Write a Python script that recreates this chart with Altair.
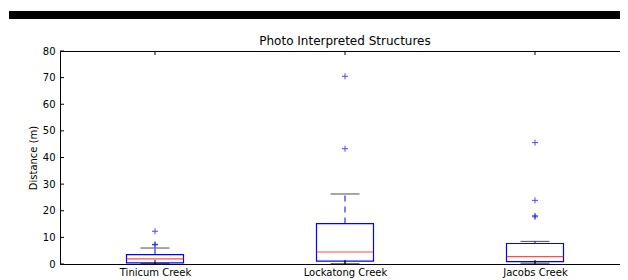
import altair as alt
import pandas as pd

# ---- data ----
title_text = ["Photo Interpreted Structures"]
categories = ["Tinicum Creek", "Lockatong Creek", "Jacobs Creek"]
whisker_low = [0.1, 0.1, 0.3]
q1 = [0.4, 1.1, 0.9]
median = [1.9, 4.5, 2.8]
q3 = [3.5, 15.2, 7.7]
whisker_high = [6.0, 26.3, 8.5]

outlier_cat = ["Tinicum Creek", "Tinicum Creek", "Tinicum Creek",
               "Lockatong Creek", "Lockatong Creek",
               "Jacobs Creek", "Jacobs Creek", "Jacobs Creek", "Jacobs Creek"]
outlier_val = [7.2, 7.4, 12.3, 43.3, 70.5, 17.7, 18.1, 23.9, 45.6]

y_ticks = [0, 10, 20, 30, 40, 50, 60, 70, 80]

W, H = 570, 213
FONT = "DejaVu Sans"
BLUE = "#0000ff"
RED = "#ff0000"

stats = pd.DataFrame({"cat": categories, "lo": whisker_low, "q1": q1,
                      "med": median, "q3": q3, "hi": whisker_high})
outs = pd.DataFrame({"cat": outlier_cat, "v": outlier_val})
ticks_df = pd.DataFrame({"t": y_ticks})
cats_df = pd.DataFrame({"cat": categories})
title_df = pd.DataFrame({"title": title_text})

xscale = alt.Scale(type="point", padding=0.5, domain=categories)
yscale = alt.Scale(domain=[0, 80], nice=False, zero=False)

x_axis = alt.Axis(title=None, ticks=False, domain=False, grid=False,
                  labelFont=FONT, labelFontSize=10, labelColor="black",
                  labelPadding=3, labelAngle=0)
y_axis = alt.Axis(title="Distance (m)", values=y_ticks, ticks=False, domain=False,
                  grid=False, labelFont=FONT, labelFontSize=10, labelColor="black",
                  labelPadding=5, titleFont=FONT, titleFontSize=10,
                  titleFontWeight="normal", titleColor="black", titlePadding=4)

def X():
    return alt.X("cat:N", scale=xscale, axis=x_axis)

def Yq(field):
    return alt.Y(f"{field}:Q", scale=yscale, axis=y_axis)

base = alt.Chart(stats)

box = base.mark_bar(size=57, filled=False, stroke=BLUE, strokeWidth=1.2).encode(
    x=X(), y=Yq("q1"), y2="q3:Q")

whisk_up = base.mark_rule(color=BLUE, strokeWidth=1, strokeDash=[6, 5]).encode(
    x=X(), y=Yq("q3"), y2="hi:Q")
whisk_dn = base.mark_rule(color=BLUE, strokeWidth=1, strokeDash=[6, 5]).encode(
    x=X(), y=Yq("q1"), y2="lo:Q")

cap_hi = base.mark_tick(size=29, thickness=1, color="black", orient="horizontal").encode(
    x=X(), y=Yq("hi"))
cap_lo = base.mark_tick(size=29, thickness=1, color="black", orient="horizontal").encode(
    x=X(), y=Yq("lo"))

med = base.mark_tick(size=57, thickness=1.2, color=RED, orient="horizontal").encode(
    x=X(), y=Yq("med"))

fliers = alt.Chart(outs).mark_point(
    shape="M-1,0L1,0M0,-1L0,1", filled=False, stroke=BLUE, strokeWidth=1, size=36
).encode(x=X(), y=Yq("v"))

# inward ticks, matplotlib style
lt = alt.Chart(ticks_df).mark_rule(color="black", strokeWidth=1).encode(
    y=Yq("t"), x=alt.value(0), x2=alt.value(4))
rt = alt.Chart(ticks_df).mark_rule(color="black", strokeWidth=1).encode(
    y=Yq("t"), x=alt.value({"expr": "width - 4"}), x2=alt.value("width"))
tt = alt.Chart(cats_df).mark_rule(color="black", strokeWidth=1).encode(
    x=X(), y=alt.value(0), y2=alt.value(4))
bt = alt.Chart(cats_df).mark_rule(color="black", strokeWidth=1).encode(
    x=X(), y=alt.value({"expr": "height - 4"}), y2=alt.value("height"))

# title as a text mark, and black band at the top of the picture
title = alt.Chart(title_df).mark_text(
    font=FONT, fontSize=12, color="black", align="center", baseline="alphabetic"
).encode(text="title:N", x=alt.value({"expr": "width / 2"}), y=alt.value(-6))

band = alt.Chart(title_df).mark_rect(color="black").encode(
    x=alt.value(-51), x2=alt.value("width"), y=alt.value(-40), y2=alt.value(-32))

chart = alt.layer(box, whisk_up, whisk_dn, cap_hi, cap_lo, med, fliers,
                  lt, rt, tt, bt, title, band).properties(
    width=W, height=H,
    autosize=alt.AutoSizeParams(type="none"),
    padding={"left": 52, "top": 43, "right": -10, "bottom": 16},
    background="white",
).configure_view(stroke="black", strokeWidth=1)

chart.save("out.html", embed_options={"renderer": "svg", "actions": False})
